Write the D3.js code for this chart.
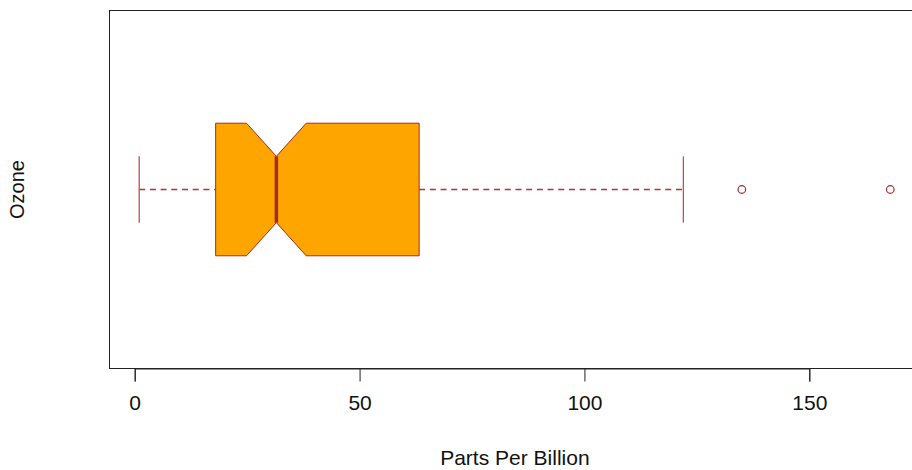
<!DOCTYPE html>
<html><head><meta charset="utf-8">
<script src="https://cdn.jsdelivr.net/npm/d3@7"></script>
<style>body{margin:0;background:#fff}svg{display:block}</style>
</head><body>
<svg id="c" width="912" height="470"></svg>
<script>
const seriesName = ["Ozone"];
const stats = {min: 1, q1: 18, median: 31.5, q3: 63.25, max: 122};
const notchLo = [24.86];
const notchHi = [38.14];
const outliers = [135, 168];
const xTicks = [0, 50, 100, 150];
const xLabel = "Parts Per Billion";

const svg = d3.select("#c");
const font = "'Liberation Sans', Arial, sans-serif";
const x = d3.scaleLinear().domain([0, 150]).range([134.7, 809.3]);
const y = d3.scaleLinear().domain([0.46, 1.54]).range([368.5, 10.5]);
const brown = "#A52A2A";

// frame
const xl = Math.round(x(-5.68)) + 0.5, xr = x(174.68);
svg.append("rect").attr("x", xl).attr("y", y(1.54)).attr("width", xr - xl).attr("height", y(0.46) - y(1.54))
  .attr("fill", "none").attr("stroke", "#222").attr("stroke-width", 1);

const c = 1, hw = 0.2, cw = 0.1, nw = 0.1;
// whiskers
svg.append("line").attr("x1", x(stats.min)).attr("x2", x(stats.q1)).attr("y1", y(c)).attr("y2", y(c))
  .attr("stroke", "#b03535").attr("stroke-dasharray", "6,4.7").attr("stroke-width", 1.5);
svg.append("line").attr("x1", x(stats.q3)).attr("x2", x(stats.max)).attr("y1", y(c)).attr("y2", y(c))
  .attr("stroke", "#b03535").attr("stroke-dasharray", "6,4.7").attr("stroke-width", 1.5);
[stats.min, stats.max].forEach(v => {
  svg.append("line").attr("x1", x(v)).attr("x2", x(v)).attr("y1", y(c - cw)).attr("y2", y(c + cw))
    .attr("stroke", "#c0504d").attr("stroke-width", 1.3);
});
// notched box
const pts = [
  [stats.q1, c + hw], [notchLo[0], c + hw], [stats.median, c + nw], [notchHi[0], c + hw], [stats.q3, c + hw],
  [stats.q3, c - hw], [notchHi[0], c - hw], [stats.median, c - nw], [notchLo[0], c - hw], [stats.q1, c - hw]
];
svg.append("path").attr("d", d3.line().x(d => x(d[0])).y(d => y(d[1]))(pts) + "Z")
  .attr("fill", "#FFA500").attr("stroke", brown).attr("stroke-width", 1);
svg.append("line").attr("x1", x(stats.median)).attr("x2", x(stats.median)).attr("y1", y(c - nw)).attr("y2", y(c + nw))
  .attr("stroke", brown).attr("stroke-width", 3.5);
// outliers
svg.selectAll("circle.o").data(outliers).join("circle").attr("class", "o")
  .attr("cx", d => x(d)).attr("cy", y(c)).attr("r", 3.8)
  .attr("fill", "none").attr("stroke", brown).attr("stroke-width", 1.2);

// axis
const ax = svg.append("g").attr("transform", `translate(0,${y(0.46)})`)
  .call(d3.axisBottom(x).tickValues(xTicks).tickSize(13).tickPadding(14).tickFormat(d3.format("d")));
ax.select(".domain").attr("stroke", "#222");
ax.selectAll(".tick line").attr("stroke", "#222");
ax.selectAll("text").attr("font-family", font).attr("font-size", 21).attr("fill", "#111");

svg.append("text").attr("x", (xl + xr) / 2).attr("y", 465).attr("text-anchor", "middle")
  .attr("font-family", font).attr("font-size", 21).attr("fill", "#111").text(xLabel);
svg.append("text").attr("transform", `translate(24,${y(c)}) rotate(-90)`).attr("text-anchor", "middle")
  .attr("font-family", font).attr("font-size", 20).attr("fill", "#111").text(seriesName[0]);
</script>
</body></html>
